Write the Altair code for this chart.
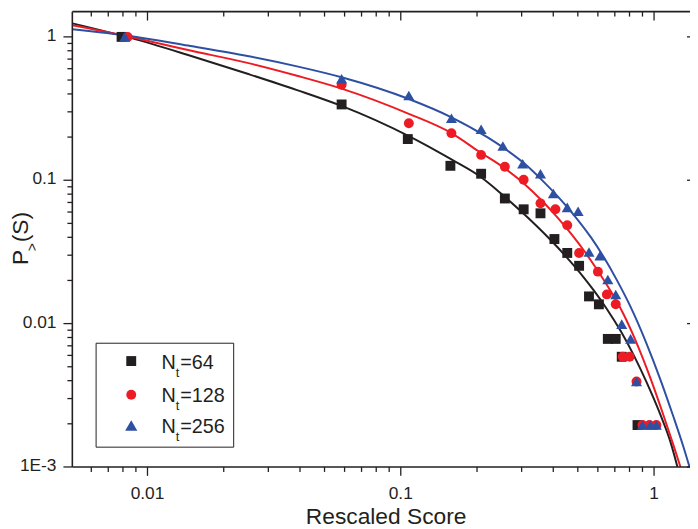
import altair as alt
import pandas as pd

# ---------------- data ----------------
n64_x = [0.0079, 0.0584, 0.1066, 0.157, 0.2076, 0.2576, 0.3056, 0.3561, 0.4042, 0.4542,
         0.5059, 0.5535, 0.6056, 0.6568, 0.7058, 0.7454, 0.8603]
n64_y = [1.0, 0.3378, 0.1937, 0.1261, 0.111, 0.0746, 0.0627, 0.0588, 0.0389, 0.0311,
         0.0253, 0.01548, 0.01363, 0.00782, 0.00782, 0.00587, 0.00196]

n128_x = [0.00835, 0.0584, 0.1076, 0.1585, 0.2076, 0.2576, 0.3056, 0.3561, 0.4078, 0.4542,
          0.5059, 0.6002, 0.651, 0.7058, 0.7521, 0.8007, 0.8526, 0.9001, 0.9585, 1.0209]
n128_y = [1.0, 0.464, 0.2497, 0.2131, 0.1502, 0.1241, 0.1009, 0.069, 0.0627, 0.0486,
          0.0311, 0.02303, 0.01598, 0.01363, 0.00587, 0.00587, 0.00395, 0.00196, 0.00196, 0.00196]

n256_x = [0.00813, 0.0584, 0.1076, 0.1585, 0.2076, 0.253, 0.3029, 0.3561, 0.4005, 0.4542,
          0.5013, 0.5535, 0.6111, 0.6568, 0.7058, 0.7454, 0.8079, 0.8526, 0.9001, 0.9674, 1.0209]
n256_y = [1.0, 0.5105, 0.3898, 0.2704, 0.227, 0.1733, 0.1302, 0.111, 0.0808, 0.0647,
          0.0607, 0.0316, 0.0297, 0.0203, 0.01598, 0.00992, 0.00782, 0.00395, 0.00196, 0.00196, 0.00196]

fit64_x = [0.00505, 0.00866, 0.01446, 0.02482, 0.03893, 0.05836, 0.1076, 0.1585, 0.2076, 0.2508,
           0.3141, 0.3863, 0.4502, 0.5293, 0.5791, 0.6510, 0.7384, 0.8300, 0.9330, 1.0583, 1.1581, 1.2446]
fit64_y = [1.243, 0.9796, 0.7475, 0.5528, 0.4253, 0.3299, 0.2031, 0.1396, 0.1049, 0.0798,
           0.05581, 0.03904, 0.02923, 0.02087, 0.01697, 0.01265, 0.008863, 0.006052, 0.003922,
           0.002325, 0.001514, 0.00096]

fit128_x = [0.00505, 0.00866, 0.01446, 0.02482, 0.03893, 0.05836, 0.1076, 0.1585, 0.2021, 0.2576,
            0.3085, 0.3594, 0.4152, 0.4752, 0.5293, 0.5949, 0.6749, 0.7586, 0.8528, 0.9673, 1.0874,
            1.1898, 1.2786]
fit128_y = [1.2045, 0.9952, 0.8095, 0.6584, 0.5355, 0.4356, 0.2905, 0.2131, 0.1600, 0.1210,
            0.09384, 0.07254, 0.05510, 0.04140, 0.03221, 0.02385, 0.01679, 0.01157, 0.007347,
            0.004166, 0.002314, 0.001437, 0.000969]

fit256_x = [0.00505, 0.00866, 0.01446, 0.02482, 0.03893, 0.05836, 0.1076, 0.1585, 0.2211, 0.2576,
            0.3085, 0.3693, 0.4304, 0.4970, 0.5636, 0.6337, 0.7123, 0.8079, 0.9330, 1.0583, 1.1898,
            1.3018, 1.3864]
fit256_y = [1.1302, 1.0112, 0.8695, 0.7358, 0.6228, 0.5229, 0.3686, 0.2747, 0.1981, 0.1658,
            0.1302, 0.09626, 0.07243, 0.05364, 0.03991, 0.02900, 0.02018, 0.01308, 0.007289,
            0.004088, 0.002267, 0.001407, 0.000975]

x_major = [0.01, 0.1, 1]
x_major_labels = ["0.01", "0.1", "1"]
x_minor = [0.006, 0.007, 0.008, 0.009, 0.02, 0.03, 0.04, 0.05, 0.06, 0.07, 0.08, 0.09,
           0.2, 0.3, 0.4, 0.5, 0.6, 0.7, 0.8, 0.9]
y_major = [0.001, 0.01, 0.1, 1]
y_major_labels = ["1E-3", "0.01", "0.1", "1"]
y_minor = [0.002, 0.003, 0.004, 0.005, 0.006, 0.007, 0.008, 0.009,
           0.02, 0.03, 0.04, 0.05, 0.06, 0.07, 0.08, 0.09,
           0.2, 0.3, 0.4, 0.5, 0.6, 0.7, 0.8, 0.9]

legend_labels = ["=64", "=128", "=256"]
x_title = "Rescaled Score"

# ---------------- styling ----------------
FONT = "Liberation Sans"
INK = "#231f20"
C64, C128, C256 = "#231f20", "#ed1c24", "#2e50a3"
W, H = 624, 460

xs = alt.Scale(type="log", domain=[0.00505, 1.3864], nice=False)
ys = alt.Scale(type="log", domain=[0.001, 1.5], nice=False)


def dummy():
    return pd.DataFrame({"a": [0]})


layers = []

# fitted curves
for fx, fy, col in [(fit64_x, fit64_y, C64), (fit128_x, fit128_y, C128), (fit256_x, fit256_y, C256)]:
    df = pd.DataFrame({"x": fx, "y": fy})
    layers.append(
        alt.Chart(df).mark_line(color=col, strokeWidth=2, interpolate="monotone", clip=True).encode(
            x=alt.X("x:Q", scale=xs, axis=None),
            y=alt.Y("y:Q", scale=ys, axis=None),
        )
    )

# data points
for px, py, col, shape, size in [
    (n64_x, n64_y, C64, "square", 100),
    (n128_x, n128_y, C128, "circle", 100),
    (n256_x, n256_y, C256, "triangle-up", 125),
]:
    df = pd.DataFrame({"x": px, "y": py})
    layers.append(
        alt.Chart(df).mark_point(shape=shape, filled=True, size=size, color=col, opacity=1).encode(
            x=alt.X("x:Q", scale=xs, axis=None),
            y=alt.Y("y:Q", scale=ys, axis=None),
        )
    )

# ---- frame, ticks and tick labels ----
TW = 1.3
layers.append(alt.Chart(dummy()).mark_rule(color=INK, strokeWidth=1.6).encode(
    x=alt.value(0), y=alt.value(0), y2=alt.value(H)))
layers.append(alt.Chart(dummy()).mark_rule(color=INK, strokeWidth=1.6).encode(
    x=alt.value(0), x2=alt.value(W), y=alt.value(H)))
layers.append(alt.Chart(dummy()).mark_rule(color=INK, strokeWidth=1.6).encode(
    x=alt.value(0), x2=alt.value(W), y=alt.value(0)))

xmaj = pd.DataFrame({"v": x_major, "lab": x_major_labels})
xmin = pd.DataFrame({"v": x_minor})
ymaj = pd.DataFrame({"v": y_major, "lab": y_major_labels})
ymin = pd.DataFrame({"v": y_minor})

# bottom: outward ticks
layers.append(alt.Chart(xmaj).mark_rule(color=INK, strokeWidth=TW).encode(
    x=alt.X("v:Q", scale=xs, axis=None), y=alt.value(H), y2=alt.value(H + 9)))
layers.append(alt.Chart(xmin).mark_rule(color=INK, strokeWidth=TW).encode(
    x=alt.X("v:Q", scale=xs, axis=None), y=alt.value(H), y2=alt.value(H + 5)))
# top: inward ticks
layers.append(alt.Chart(xmaj).mark_rule(color=INK, strokeWidth=TW).encode(
    x=alt.X("v:Q", scale=xs, axis=None), y=alt.value(0), y2=alt.value(9)))
layers.append(alt.Chart(xmin).mark_rule(color=INK, strokeWidth=TW).encode(
    x=alt.X("v:Q", scale=xs, axis=None), y=alt.value(0), y2=alt.value(5)))
# left: outward ticks
layers.append(alt.Chart(ymaj).mark_rule(color=INK, strokeWidth=TW).encode(
    y=alt.Y("v:Q", scale=ys, axis=None), x=alt.value(-9), x2=alt.value(0)))
layers.append(alt.Chart(ymin).mark_rule(color=INK, strokeWidth=TW).encode(
    y=alt.Y("v:Q", scale=ys, axis=None), x=alt.value(-5), x2=alt.value(0)))
# right side tick stubs (right frame lies just outside the picture)
layers.append(alt.Chart(ymaj).mark_rule(color=INK, strokeWidth=TW).encode(
    y=alt.Y("v:Q", scale=ys, axis=None), x=alt.value(W - 3), x2=alt.value(W)))

# tick labels
layers.append(alt.Chart(xmaj).mark_text(font=FONT, fontSize=17.5, color=INK, align="center",
                                        baseline="alphabetic").encode(
    x=alt.X("v:Q", scale=xs, axis=None), y=alt.value(H + 32.5), text="lab:N"))
layers.append(alt.Chart(ymaj).mark_text(font=FONT, fontSize=17.5, color=INK, align="right",
                                        baseline="middle", dy=-1).encode(
    y=alt.Y("v:Q", scale=ys, axis=None), x=alt.value(-16), text="lab:N"))

# axis titles
layers.append(alt.Chart(dummy()).mark_text(text=x_title, font=FONT, fontSize=23, color=INK,
                                           align="center", baseline="alphabetic").encode(
    x=alt.value(317), y=alt.value(518)))
layers.append(alt.Chart(dummy()).mark_text(text="P", font=FONT, fontSize=23, color=INK, angle=270,
                                           align="left", baseline="alphabetic").encode(
    x=alt.value(-45), y=alt.value(256)))
layers.append(alt.Chart(dummy()).mark_text(text=">", font=FONT, fontSize=14, color=INK, angle=270,
                                           align="left", baseline="alphabetic").encode(
    x=alt.value(-36), y=alt.value(242)))
layers.append(alt.Chart(dummy()).mark_text(text="(S)", font=FONT, fontSize=23, color=INK, angle=270,
                                           align="left", baseline="alphabetic").encode(
    x=alt.value(-45), y=alt.value(233)))

# legend
layers.append(alt.Chart(dummy()).mark_rect(fill="white", stroke=INK, strokeWidth=1).encode(
    x=alt.value(24), x2=alt.value(163), y=alt.value(335), y2=alt.value(440)))
for i, (lab, col, shape, size) in enumerate([
    (legend_labels[0], C64, "square", 100),
    (legend_labels[1], C128, "circle", 100),
    (legend_labels[2], C256, "triangle-up", 150),
]):
    base_y = [361, 394, 426][i]
    sym_y = [353, 387, 418][i]
    layers.append(alt.Chart(dummy()).mark_point(shape=shape, filled=True, size=size, color=col, opacity=1).encode(
        x=alt.value(59.5), y=alt.value(sym_y)))
    layers.append(alt.Chart(dummy()).mark_text(text="N", font=FONT, fontSize=20, color=INK,
                                               align="left", baseline="alphabetic").encode(
        x=alt.value(90), y=alt.value(base_y)))
    layers.append(alt.Chart(dummy()).mark_text(text="t", font=FONT, fontSize=13, color=INK,
                                               align="left", baseline="alphabetic").encode(
        x=alt.value(104.5), y=alt.value(base_y + 8)))
    layers.append(alt.Chart(dummy()).mark_text(text=lab, font=FONT, fontSize=20, color=INK,
                                               align="left", baseline="alphabetic").encode(
        x=alt.value(109), y=alt.value(base_y)))

chart = alt.layer(*layers).properties(
    width=W, height=H,
    padding={"left": 65, "top": 1, "right": 0, "bottom": 60},
    autosize=alt.AutoSizeParams(type="none"),
    background="white",
).configure_view(strokeWidth=0)

chart.save("out.html", embed_options={"renderer": "svg", "actions": False})
